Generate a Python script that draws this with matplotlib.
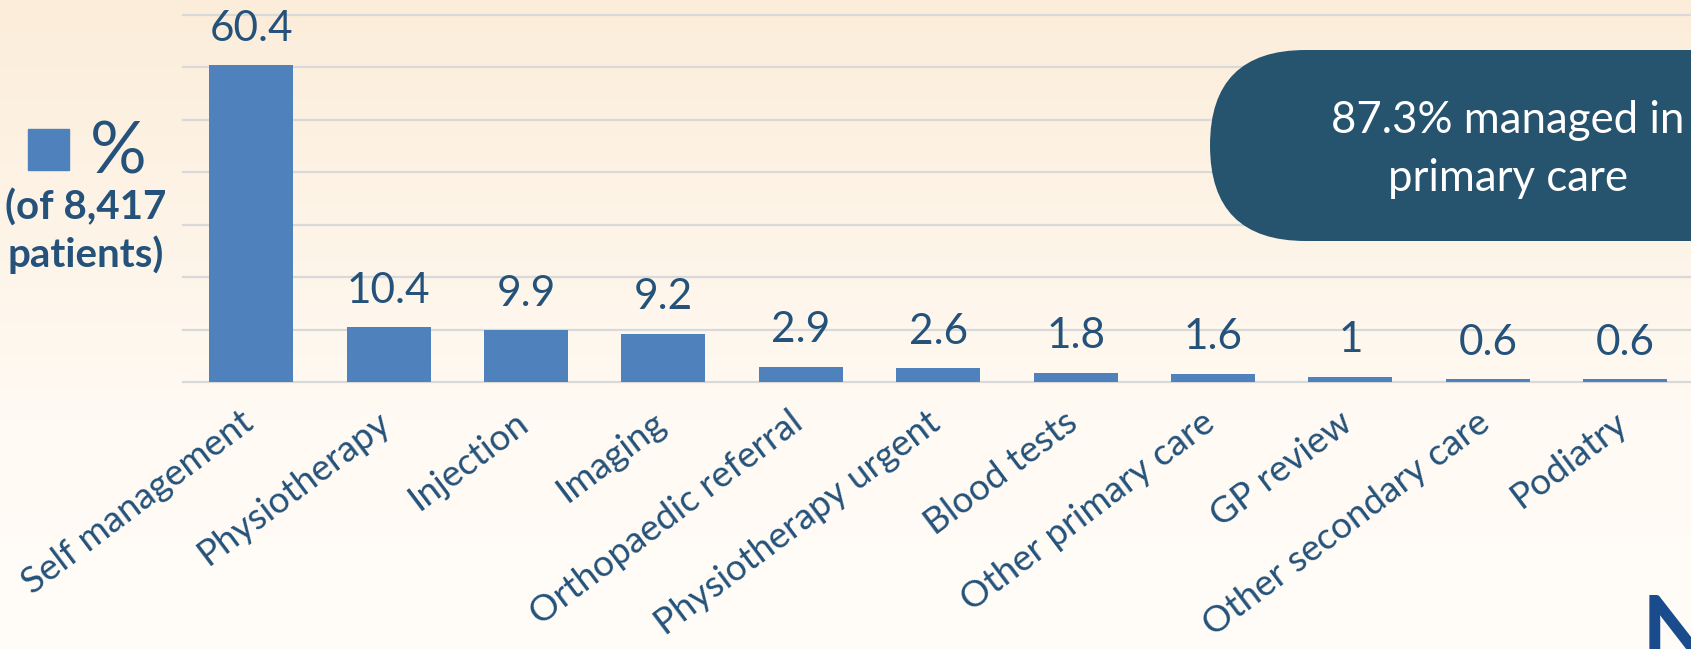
import numpy as np
import matplotlib.pyplot as plt
from matplotlib.patches import FancyBboxPatch, Rectangle
from matplotlib.colors import LinearSegmentedColormap
from matplotlib.transforms import ScaledTranslation

plt.rcParams['font.family'] = ['Lato', 'DejaVu Sans']

categories = ['Self management', 'Physiotherapy', 'Injection', 'Imaging',
              'Orthopaedic referral', 'Physiotherapy urgent', 'Blood tests',
              'Other primary care', 'GP review', 'Other secondary care', 'Podiatry']
values = [60.4, 10.4, 9.9, 9.2, 2.9, 2.6, 1.8, 1.6, 1, 0.6, 0.6]
value_labels = ['60.4', '10.4', '9.9', '9.2', '2.9', '2.6', '1.8', '1.6', '1', '0.6', '0.6']
legend_title = '%'
legend_sub = ['(of 8,417', 'patients)']
callout = ['87.3% managed in', 'primary care']

bar_col = '#4F81BD'
txt_col = '#24527A'
box_col = '#26546F'

W, H = 1691, 649
fig = plt.figure(figsize=(W / 100, H / 100), dpi=100)

# background gradient (peach at top fading to near white)
bg = fig.add_axes([0, 0, 1, 1])
bg.set_xlim(0, W)
bg.set_ylim(H, 0)
bg.axis('off')
cmap = LinearSegmentedColormap.from_list('bg', [(0, '#FCEDDA'), (0.65, '#FFFAF3'), (1, '#FFFCF8')])
bg.imshow(np.linspace(0, 1, 256).reshape(-1, 1), cmap=cmap, extent=[0, W, H, 0], aspect='auto')

# main chart
step = 137.4
ax = fig.add_axes([182.5 / W, (H - 382) / H, 11 * step / W, 367 / H])
ax.patch.set_alpha(0)
x = np.arange(len(values))
ax.bar(x, values, width=0.61, color=bar_col, zorder=3)
ax.set_xlim(-0.5, len(values) - 0.5)
ax.set_ylim(0, 70)
ax.set_yticks(range(0, 71, 10))
ax.yaxis.grid(True, color='#D9D9D9', lw=1.6)
for gl in ax.get_ygridlines():
    gl.set_clip_on(False)
ax.set_axisbelow(True)
ax.tick_params(left=False, labelleft=False, bottom=False, pad=23)
for s in ax.spines.values():
    s.set_visible(False)

for i, (v, lbl) in enumerate(zip(values, value_labels)):
    ax.annotate(lbl, (i, v), xytext=(0, 17.5), textcoords='offset points',
                ha='center', va='baseline', fontsize=30.5, color=txt_col)

ax.set_xticks(x)
ax.set_xticklabels(categories, rotation=37, ha='right', va='center',
                   rotation_mode='anchor', fontsize=26.5, color=txt_col)
off = ScaledTranslation(-0.02, 0, fig.dpi_scale_trans)
for lab in ax.get_xticklabels():
    lab.set_transform(lab.get_transform() + off)

# overlay: legend, callout box, logo
fg = fig.add_axes([0, 0, 1, 1], zorder=5)
fg.set_xlim(0, W)
fg.set_ylim(H, 0)
fg.axis('off')

fg.add_patch(Rectangle((28, 129), 41, 41, color=bar_col))
fg.text(90, 173, legend_title, fontsize=51, color=txt_col, ha='left', va='baseline')
fg.text(86, 220, legend_sub[0], fontsize=29, fontweight='bold', color=txt_col,
        ha='center', va='baseline')
fg.text(86, 267, legend_sub[1], fontsize=29, fontweight='bold', color=txt_col,
        ha='center', va='baseline')

fg.add_patch(FancyBboxPatch((1210, 50), 700, 191,
                            boxstyle='round,pad=0,rounding_size=95.5',
                            fc=box_col, ec='none'))
fg.text(1508, 133, callout[0], fontsize=31.5, color='white', ha='center', va='baseline')
fg.text(1508, 191, callout[1], fontsize=31.5, color='white', ha='center', va='baseline')

fg.text(1642, 594, 'N', fontsize=66, fontweight='bold', color='#1A4B8C',
        ha='left', va='top')

fig.savefig('out.png', dpi=100)
